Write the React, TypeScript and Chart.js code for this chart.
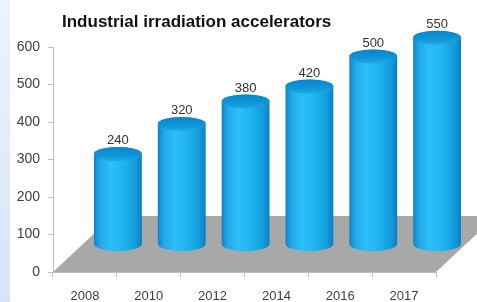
import React, { useEffect, useRef } from "react";
import { Chart, registerables } from "chart.js";

Chart.register(...registerables);

const TITLE = "Industrial irradiation accelerators";
const YEARS = ["2008", "2010", "2012", "2014", "2016", "2017"];
const ACCELERATORS = [240, 320, 380, 420, 500, 550];
const Y_MIN = 0;
const Y_MAX = 600;
const Y_STEP = 100;

const FONT = "'Liberation Sans', Arial, sans-serif";

// 3D depth offsets in pixels
const FLOOR_DX = 60;
const FLOOR_DY = 56;
const BAR_DX = 33;
const BAR_DY = 28;
const RY = 7;

const cylinderPlugin = {
  id: "cylinder3d",
  beforeDatasetsDraw(chart: any) {
    const { ctx, chartArea, scales } = chart;
    const yb = scales.y.getPixelForValue(0);
    const L = chartArea.left;
    const R = chartArea.right;
    ctx.save();
    ctx.beginPath();
    ctx.moveTo(L, yb);
    ctx.lineTo(R, yb);
    ctx.lineTo(R + FLOOR_DX, yb - FLOOR_DY);
    ctx.lineTo(L + FLOOR_DX, yb - FLOOR_DY);
    ctx.closePath();
    ctx.fillStyle = "#a8a8a8";
    ctx.fill();
    ctx.restore();
  },
  afterDatasetsDraw(chart: any) {
    const { ctx, scales } = chart;
    const meta = chart.getDatasetMeta(0);
    const data = chart.data.datasets[0].data;
    meta.data.forEach((bar: any, i: number) => {
      const cx = bar.x + BAR_DX;
      const yt = bar.y - BAR_DY;
      const ybot = scales.y.getPixelForValue(0) - BAR_DY;
      const rx = bar.width / 2;
      ctx.save();
      // side
      const g = ctx.createLinearGradient(cx - rx, 0, cx + rx, 0);
      g.addColorStop(0, "#1283c9");
      g.addColorStop(0.12, "#1ea8e7");
      g.addColorStop(0.35, "#2dc0f7");
      g.addColorStop(0.62, "#1fb3ee");
      g.addColorStop(0.86, "#149cdc");
      g.addColorStop(1, "#0b80c2");
      ctx.beginPath();
      ctx.moveTo(cx - rx, yt);
      ctx.lineTo(cx - rx, ybot);
      ctx.ellipse(cx, ybot, rx, RY, 0, Math.PI, 0, true);
      ctx.lineTo(cx + rx, yt);
      ctx.ellipse(cx, yt, rx, RY, 0, 0, Math.PI, true);
      ctx.closePath();
      ctx.fillStyle = g;
      ctx.fill();
      // top
      const gt = ctx.createLinearGradient(0, yt - RY, 0, yt + RY);
      gt.addColorStop(0, "#0a84cb");
      gt.addColorStop(0.6, "#0f95d9");
      gt.addColorStop(1, "#1eaae8");
      ctx.beginPath();
      ctx.ellipse(cx, yt, rx, RY, 0, 0, Math.PI * 2);
      ctx.fillStyle = gt;
      ctx.fill();
      // value label
      ctx.fillStyle = "#333333";
      ctx.font = `13px ${FONT}`;
      ctx.textAlign = "center";
      ctx.textBaseline = "alphabetic";
      ctx.fillText(String(data[i]), cx, yt - RY - 3);
      ctx.restore();
    });
  },
  afterDraw(chart: any) {
    const { ctx } = chart;
    ctx.save();
    ctx.fillStyle = "#111111";
    ctx.font = `bold 17px ${FONT}`;
    ctx.textAlign = "left";
    ctx.textBaseline = "alphabetic";
    ctx.fillText(TITLE, 62, 27);
    ctx.restore();
  },
};

export default function App() {
  const ref = useRef<HTMLCanvasElement | null>(null);

  useEffect(() => {
    if (!ref.current) return;
    const chart = new Chart(ref.current, {
      type: "bar",
      data: {
        labels: YEARS,
        datasets: [
          {
            label: TITLE,
            data: ACCELERATORS,
            backgroundColor: "rgba(0,0,0,0)",
            borderWidth: 0,
            categoryPercentage: 1,
            barPercentage: 0.75,
          },
        ],
      },
      options: {
        animation: false,
        responsive: true,
        maintainAspectRatio: false,
        layout: { padding: { left: 0, right: 41, top: 47, bottom: 0 } },
        plugins: {
          legend: { display: false },
          title: { display: false },
          tooltip: { enabled: false },
        },
        scales: {
          x: {
            grid: {
              display: true,
              drawOnChartArea: false,
              drawTicks: true,
              tickLength: 5,
              color: "#bfbfbf",
              offset: true,
            },
            border: { color: "#bfbfbf", width: 1 },
            ticks: {
              color: "#404040",
              font: { family: FONT, size: 13 },
              padding: 12,
              maxRotation: 0,
            },
            afterFit: (scale: any) => {
              scale.height = 30;
            },
          },
          y: {
            min: Y_MIN,
            max: Y_MAX,
            ticks: {
              stepSize: Y_STEP,
              color: "#404040",
              font: { family: FONT, size: 14 },
              padding: 8,
            },
            grid: {
              display: true,
              drawOnChartArea: false,
              drawTicks: true,
              tickLength: 5,
              color: "#bfbfbf",
            },
            border: { color: "#bfbfbf", width: 1 },
            afterFit: (scale: any) => {
              scale.width = 53;
            },
          },
        },
      },
      plugins: [cylinderPlugin],
    });
    return () => chart.destroy();
  }, []);

  return (
    <div
      style={{
        position: "fixed",
        left: 0,
        top: 0,
        width: 477,
        height: 302,
        background: "#ffffff",
        overflow: "hidden",
      }}
    >
      <div
        style={{
          position: "absolute",
          left: 0,
          top: 0,
          width: 10,
          height: 302,
          background: "linear-gradient(to bottom, #edf3fc, #d6e4f8)",
        }}
      />
      <canvas ref={ref} style={{ position: "absolute", left: 0, top: 0, width: 477, height: 302 }} />
    </div>
  );
}
